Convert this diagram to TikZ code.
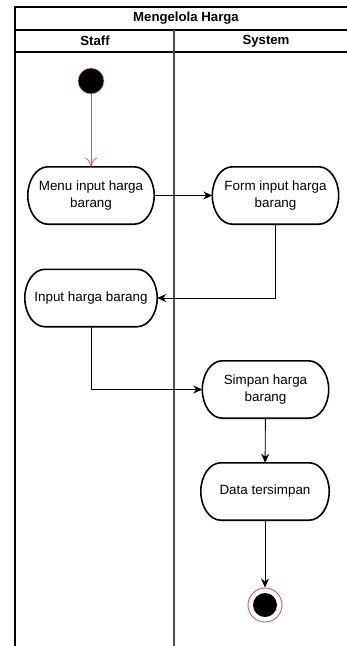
\documentclass[tikz,border=0pt]{standalone}
\usepackage{fontspec}
\setmainfont{Liberation Sans}
\usetikzlibrary{arrows.meta}
\definecolor{flowred}{RGB}{205,90,90}
\tikzset{
  act/.style={draw=none, rectangle, minimum width=126pt, minimum height=57pt,
    inner sep=2pt, align=center, font=\fontsize{13.4}{17.5}\selectfont},
  actline/.style={draw=black, line width=1.6pt, fill=white},
  flow/.style={draw=black, line width=0.9pt, -{Stealth[length=9pt,width=8pt]}},
  lane/.style={line width=1.3pt, draw=black},
  head/.style={font=\fontsize{13.2}{16}\selectfont\bfseries}
}
% activity outline: flat top and bottom, elliptical ends
\newcommand\actoutline[1]{%
  \draw[actline] ([xshift=20pt]#1.north west) -- ([xshift=-20pt]#1.north east)
    .. controls +(11.05,0) and +(0,-15.74) .. (#1.east)
    .. controls +(0,15.74) and +(11.05,0) .. ([xshift=-20pt]#1.south east)
    -- ([xshift=20pt]#1.south west)
    .. controls +(-11.05,0) and +(0,15.74) .. (#1.west)
    .. controls +(0,-15.74) and +(-11.05,0) .. cycle;}
\begin{document}
\begin{tikzpicture}[x=1pt,y=-1pt]
\useasboundingbox (0,0) rectangle (347,646);
% swimlane frame
\draw[lane] (15,646) -- (15,7) -- (360,7);
\draw[lane] (15,30) -- (360,30);
\draw[lane] (15,52) -- (360,52);
\draw[line width=1.3pt, draw=black!70] (174,30) -- (174,646);
\node[head] (title) at (186,18.5) {Mengelola Harga};
\node[head] (staff) at (95,41) {Staff};
\node[head] (system) at (266,41) {System};
% activities
\node[act] (menu) at (91,195.5) {};
\node[act] (form) at (275.5,195.5) {};
\node[act, minimum width=132pt] (input) at (91,298) {};
\node[act] (simpan) at (265.5,389.5) {};
\node[act, minimum width=128pt] (data) at (265,491.5) {};
\actoutline{menu}\actoutline{form}\actoutline{input}\actoutline{simpan}\actoutline{data}
\node[act] at (menu) {Menu input harga\\barang};
\node[act] at (form) {Form input harga\\barang};
\node[act] at (input) {Input harga barang};
\node[act] at (simpan) {Simpan harga\\barang};
\node[act] at (data) {Data tersimpan};
% start and end
\node[circle, fill=black, draw=flowred!60, line width=0.6pt, minimum size=26pt, inner sep=0pt] (start) at (91,81) {};
\node[circle, draw=flowred, line width=0.9pt, fill=white, minimum size=34pt, inner sep=0pt] (end) at (265,605) {};
\node[circle, fill=black, minimum size=24pt, inner sep=0pt] (endin) at (265,605) {};
% transitions
\draw[draw=flowred, line width=0.8pt, -{To[length=9pt,width=12pt]}] (start) -- (menu);
\draw[flow] (menu) -- (form);
\draw[flow] (form.south) |- (input.east);
\draw[flow] (input.south) |- (simpan.west);
\draw[flow] (simpan) -- (data);
\draw[flow] (data) -- (end);
\end{tikzpicture}
\end{document}
